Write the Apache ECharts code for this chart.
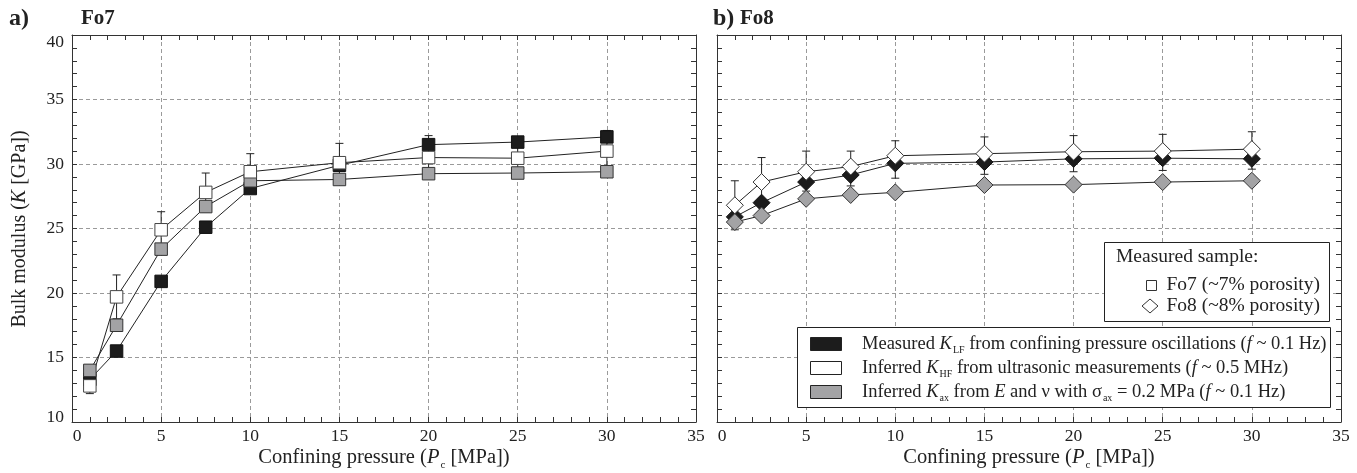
<!DOCTYPE html>
<html>
<head>
<meta charset="utf-8">
<script src="https://cdn.jsdelivr.net/npm/echarts@6.0.0/dist/echarts.min.js"></script>
<style>
html,body{margin:0;padding:0;background:#fff;}
#chart{width:1357px;height:473px;}
</style>
</head>
<body>
<div id="chart"></div>
<script>
// ---- data ----
const pressures = [1, 2.5, 5, 7.5, 10, 15, 20, 25, 30];
const xTicks = [0, 5, 10, 15, 20, 25, 30, 35];
const yTicks = [10, 15, 20, 25, 30, 35, 40];

// Fo7 (left panel)
const fo7LF = [13.3, 15.5, 20.9, 25.1, 28.1, 29.9, 31.5, 31.7, 32.1];
const fo7HF = [12.8, 19.7, 24.9, 27.8, 29.4, 30.1, 30.5, 30.45, 31.0];
const fo7AX = [14.0, 17.5, 23.4, 26.7, 28.7, 28.8, 29.25, 29.3, 29.4];
const fo7ErrLow = [12.2, 18.0, 23.5, 26.3, 28.0, 28.6, 29.0, 29.0, 29.5];
const fo7ErrHigh = [13.6, 21.4, 26.3, 29.3, 30.8, 31.6, 32.2, 31.9, 32.6];

// Fo8 (right panel)
const fo8LF = [25.9, 27.0, 28.6, 29.15, 30.05, 30.15, 30.4, 30.45, 30.4];
const fo8HF = [26.8, 28.6, 29.4, 29.8, 30.64, 30.8, 30.95, 31.0, 31.15];
const fo8AX = [25.5, 26.0, 27.3, 27.6, 27.8, 28.37, 28.4, 28.6, 28.7];
const fo8ErrLow = [24.9, 26.9, 27.9, 28.3, 28.9, 29.2, 29.4, 29.5, 29.6];
const fo8ErrHigh = [28.7, 30.5, 31.0, 31.0, 31.8, 32.1, 32.2, 32.3, 32.5];

// ---- build ----
const FONT = '"Liberation Serif", "Times New Roman", serif';
const INK = '#222';
const BLACK = '#1c1c1c', WHITE = '#ffffff', GRAY = '#a3a3a5';
const TICK_FS = 17.5;

const pairs = (ys) => pressures.map((x, i) => [x, ys[i]]);
const errData = (lo, hi) => pressures.map((x, i) => [x, lo[i], hi[i]]);

function xAxisDef(gridIndex, position, labels) {
  return {
    type: 'value', gridIndex, position, min: 0, max: 35, interval: 5,
    axisLine: {show: true, onZero: false, lineStyle: {color: '#333', width: 1}},
    axisTick: {show: true, inside: true, length: 5, lineStyle: {color: '#333'}},
    minorTick: {show: true, splitNumber: 5, length: 5, lineStyle: {color: '#333'}},
    axisLabel: labels ? {
      show: true, margin: 5, color: INK, fontFamily: FONT, fontSize: TICK_FS,
      formatter: v => v === 0 ? '{z|0}' : String(v),
      rich: {z: {fontFamily: FONT, fontSize: TICK_FS, color: INK, padding: [0, 0, 0, 10]}}
    } : {show: false},
    splitLine: labels ? {show: true, lineStyle: {color: '#9a9a9a', type: [4, 3], width: 1}} : {show: false}
  };
}
function yAxisDef(gridIndex, position, labels, split) {
  return {
    type: 'value', gridIndex, position, min: 10, max: 40, interval: 5,
    axisLine: {show: true, onZero: false, lineStyle: {color: '#333', width: 1}},
    axisTick: {show: true, inside: true, length: 5, lineStyle: {color: '#333'}},
    minorTick: {show: true, splitNumber: 5, length: 5, lineStyle: {color: '#333'}},
    axisLabel: labels ? {
      show: true, margin: 8, color: INK, fontFamily: FONT, fontSize: TICK_FS,
      formatter: v => v === 40 ? '{t|40}' : (v === 10 ? '{b|10}' : String(v)),
      rich: {
        t: {fontFamily: FONT, fontSize: TICK_FS, color: INK, padding: [14, 0, 0, 0]},
        b: {fontFamily: FONT, fontSize: TICK_FS, color: INK, padding: [0, 0, 10, 0]}
      }
    } : {show: false},
    splitLine: split ? {show: true, lineStyle: {color: '#9a9a9a', type: [4, 3], width: 1}} : {show: false}
  };
}

function errSeries(xi, yi, data) {
  return {
    type: 'custom', xAxisIndex: xi, yAxisIndex: yi, z: 1,
    encode: {x: 0, y: [1, 2]},
    data,
    renderItem: (params, api) => {
      const x = api.value(0);
      const lo = api.coord([x, api.value(1)]);
      const hi = api.coord([x, api.value(2)]);
      const w = 4;
      const st = {stroke: '#222', lineWidth: 1};
      return {type: 'group', children: [
        {type: 'line', shape: {x1: lo[0], y1: lo[1], x2: hi[0], y2: hi[1]}, style: st},
        {type: 'line', shape: {x1: hi[0] - w, y1: hi[1], x2: hi[0] + w, y2: hi[1]}, style: st},
        {type: 'line', shape: {x1: lo[0] - w, y1: lo[1], x2: lo[0] + w, y2: lo[1]}, style: st}
      ]};
    }
  };
}
function lineSeries(xi, yi, ys) {
  return {type: 'line', xAxisIndex: xi, yAxisIndex: yi, data: pairs(ys), showSymbol: false,
    symbol: 'none', z: 2, silent: true, animation: false,
    lineStyle: {color: '#222', width: 1}};
}
function markSeries(xi, yi, ys, symbol, size, fill, border) {
  return {type: 'scatter', xAxisIndex: xi, yAxisIndex: yi, data: pairs(ys), z: 3,
    symbol, symbolSize: size, animation: false,
    itemStyle: {color: fill, borderColor: border, borderWidth: 1, opacity: 1}};
}

const sq = 12.5, dm = [17, 17];
const series = [
  errSeries(0, 0, errData(fo7ErrLow, fo7ErrHigh)),
  errSeries(2, 2, errData(fo8ErrLow, fo8ErrHigh)),
  lineSeries(0, 0, fo7LF), lineSeries(0, 0, fo7AX), lineSeries(0, 0, fo7HF),
  lineSeries(2, 2, fo8LF), lineSeries(2, 2, fo8AX), lineSeries(2, 2, fo8HF),
  markSeries(0, 0, fo7LF, 'rect', sq, BLACK, '#111'),
  markSeries(0, 0, fo7AX, 'rect', sq, GRAY, '#333'),
  markSeries(0, 0, fo7HF, 'rect', sq, WHITE, '#444'),
  markSeries(2, 2, fo8LF, 'diamond', dm, BLACK, '#111'),
  markSeries(2, 2, fo8AX, 'diamond', dm, GRAY, '#333'),
  markSeries(2, 2, fo8HF, 'diamond', dm, WHITE, '#333')
];

const txt = (x, y, text, opts) => Object.assign({
  type: 'text', x, y, z: 100,
  style: Object.assign({text, fill: INK, font: '19.5px ' + FONT, textVerticalAlign: 'middle', verticalAlign: 'middle'}, opts || {})
});
function richSet(size, subSize, subPad) {
  return {
    i: {fontFamily: FONT, fontSize: size, fontStyle: 'italic', fill: INK, color: INK},
    s: {fontFamily: FONT, fontSize: subSize, fill: INK, color: INK, padding: [subPad, 0, 0, 1]},
    n: {fontFamily: FONT, fontSize: size, fill: INK, color: INK}
  };
}
const richAxis = richSet(20.5, 11, 14);
const richLeg = richSet(18.5, 10, 13);

const graphic = [
  // titles
  txt(9, 19, 'a)', {font: 'bold 24px ' + FONT}),
  txt(81, 19, 'Fo7', {font: 'bold 21px ' + FONT}),
  txt(713, 19, 'b)', {font: 'bold 24px ' + FONT}),
  txt(740, 19, 'Fo8', {font: 'bold 21px ' + FONT}),
  // axis titles
  {type: 'text', x: 20, y: 229, rotation: Math.PI / 2, z: 100,
    style: {text: '{n|Bulk modulus (}{i|K}{n| [GPa])}', rich: richSet(20, 11, 14), align: 'center', verticalAlign: 'middle',
      textAlign: 'center', textVerticalAlign: 'middle'}},
  {type: 'text', x: 384, y: 458, z: 100,
    style: {text: '{n|Confining pressure (}{i|P}{s|c}{n| [MPa])}', rich: richAxis, align: 'center', verticalAlign: 'middle',
      textAlign: 'center', textVerticalAlign: 'middle'}},
  {type: 'text', x: 1029, y: 458, z: 100,
    style: {text: '{n|Confining pressure (}{i|P}{s|c}{n| [MPa])}', rich: richAxis, align: 'center', verticalAlign: 'middle',
      textAlign: 'center', textVerticalAlign: 'middle'}},
  // legend 1
  {type: 'rect', z: 90, shape: {x: 1104.5, y: 242.5, width: 225, height: 79}, style: {fill: '#fff', stroke: '#222', lineWidth: 1}},
  txt(1116, 257, 'Measured sample:'),
  {type: 'rect', z: 100, shape: {x: 1146.5, y: 280.5, width: 10, height: 10}, style: {fill: '#fff', stroke: '#333', lineWidth: 1}},
  {type: 'polygon', z: 100, shape: {points: [[1150, 299], [1158, 306], [1150, 313], [1142, 306]]}, style: {fill: '#fff', stroke: '#333', lineWidth: 1}},
  txt(1320, 285, 'Fo7 (~7% porosity)', {textAlign: 'right', align: 'right'}),
  txt(1320, 306, 'Fo8 (~8% porosity)', {textAlign: 'right', align: 'right'}),
  // legend 2
  {type: 'rect', z: 90, shape: {x: 797.5, y: 327.5, width: 533, height: 80}, style: {fill: '#fff', stroke: '#222', lineWidth: 1}},
  {type: 'rect', z: 100, shape: {x: 810.5, y: 337.5, width: 31, height: 13}, style: {fill: BLACK, stroke: '#222', lineWidth: 1}},
  {type: 'rect', z: 100, shape: {x: 810.5, y: 361.5, width: 31, height: 13}, style: {fill: WHITE, stroke: '#222', lineWidth: 1}},
  {type: 'rect', z: 100, shape: {x: 810.5, y: 385.5, width: 31, height: 13}, style: {fill: GRAY, stroke: '#222', lineWidth: 1}},
  {type: 'text', x: 862, y: 344, z: 100, style: {text: '{n|Measured }{i|K}{s|LF}{n| from confining pressure oscillations (}{i|f}{n| ~ 0.1 Hz)}', rich: richLeg, verticalAlign: 'middle', textVerticalAlign: 'middle'}},
  {type: 'text', x: 862, y: 368, z: 100, style: {text: '{n|Inferred }{i|K}{s|HF}{n| from ultrasonic measurements (}{i|f}{n| ~ 0.5 MHz)}', rich: richLeg, verticalAlign: 'middle', textVerticalAlign: 'middle'}},
  {type: 'text', x: 862, y: 392, z: 100, style: {text: '{n|Inferred }{i|K}{s|ax}{n| from }{i|E}{n| and ν with σ}{s|ax}{n| = 0.2 MPa (}{i|f}{n| ~ 0.1 Hz)}', rich: richLeg, verticalAlign: 'middle', textVerticalAlign: 'middle'}}
];

const chart = echarts.init(document.getElementById('chart'), null, {renderer: 'canvas'});
chart.setOption({
  animation: false,
  backgroundColor: '#fff',
  grid: [
    {left: 72, top: 35, width: 624, height: 387},
    {left: 717, top: 35, width: 624, height: 387}
  ],
  xAxis: [
    xAxisDef(0, 'bottom', true), xAxisDef(0, 'top', false),
    xAxisDef(1, 'bottom', true), xAxisDef(1, 'top', false)
  ],
  yAxis: [
    yAxisDef(0, 'left', true, true), yAxisDef(0, 'right', false, false),
    yAxisDef(1, 'left', false, true), yAxisDef(1, 'right', false, false)
  ],
  series,
  graphic
});
</script>
</body>
</html>
